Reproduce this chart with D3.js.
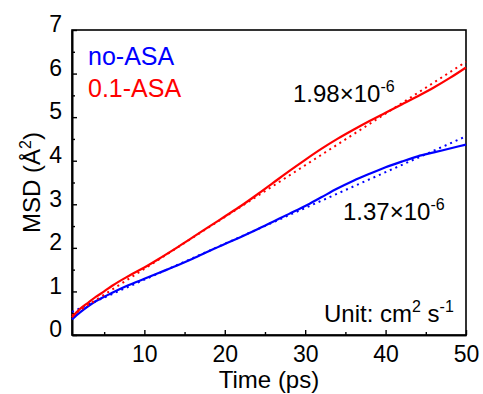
<!DOCTYPE html>
<html>
<head>
<meta charset="utf-8">
<script src="https://d3js.org/d3.v7.min.js"></script>
<style>
  body { margin: 0; background: #fff; }
  text { font-family: "Liberation Sans", Arial, sans-serif; }
</style>
</head>
<body>
<div id="chart"></div>
<script>
// Time axis (ps)
var timeVals = [1, 2, 3, 4, 5, 6, 8, 10, 12, 14, 16, 18, 20, 22, 24, 26, 28, 30, 32, 34, 36, 38, 40, 42, 44, 46, 48, 50];

// MSD values
var msdNoASA = [0.36, 0.52, 0.66, 0.78, 0.88, 0.97, 1.14, 1.29, 1.44, 1.59, 1.75, 1.92, 2.09, 2.25, 2.42, 2.60, 2.78, 2.96, 3.16, 3.36, 3.54, 3.70, 3.85, 3.98, 4.10, 4.19, 4.28, 4.37];
var msdASA = [0.41, 0.60, 0.74, 0.88, 1.00, 1.13, 1.35, 1.55, 1.77, 2.00, 2.24, 2.48, 2.72, 2.96, 3.22, 3.49, 3.76, 4.02, 4.27, 4.50, 4.71, 4.91, 5.10, 5.29, 5.48, 5.68, 5.90, 6.14];

// linear fits, end points only
var fitTime = [1, 50];
var fitNoASA = [0.53, 4.56];
var fitASA = [0.45, 6.27];

var xMajor = [10, 20, 30, 40, 50];
var xMinor = [5, 15, 25, 35, 45];
var yMajor = [0, 1, 2, 3, 4, 5, 6, 7];
var yMinor = [0.5, 1.5, 2.5, 3.5, 4.5, 5.5, 6.5];

var svgWidth = 483;
var svgHeight = 394;
var cM = { top: 30, right: 17, bottom: 59, left: 72 };
var cW = svgWidth - cM.left - cM.right;
var cH = svgHeight - cM.top - cM.bottom;

var svg = d3.select("#chart")
  .append("svg")
  .attr("width", svgWidth)
  .attr("height", svgHeight);

var chartGroup = svg.append("g")
  .attr("transform", `translate(${cM.left}, ${cM.top})`);

var xScale = d3.scaleLinear().domain([1, 50]).range([0, cW]);
var yScale = d3.scaleLinear().domain([0, 7]).range([cH, 0]);

// frame
chartGroup.append("rect")
  .attr("x", 0).attr("y", 0)
  .attr("width", cW).attr("height", cH)
  .attr("fill", "none")
  .attr("stroke", "#000")
  .attr("stroke-width", 1.6);

// axes, ticks pointing inward
var bottomAxis = d3.axisBottom(xScale).tickValues(xMajor).tickSizeInner(-5).tickSizeOuter(0).tickPadding(11).tickFormat(d3.format("d"));
var bottomMinor = d3.axisBottom(xScale).tickValues(xMinor).tickSizeInner(-3).tickSizeOuter(0).tickFormat("");
var leftAxis = d3.axisLeft(yScale).tickValues(yMajor).tickSizeInner(-5).tickSizeOuter(0).tickPadding(10).tickFormat(d3.format("d"));
var leftMinor = d3.axisLeft(yScale).tickValues(yMinor).tickSizeInner(-3).tickSizeOuter(0).tickFormat("");

var xg = chartGroup.append("g").attr("transform", `translate(0, ${cH})`).call(bottomAxis);
chartGroup.append("g").attr("transform", `translate(0, ${cH})`).call(bottomMinor);
var yg = chartGroup.append("g").call(leftAxis);
chartGroup.append("g").call(leftMinor);

chartGroup.selectAll(".domain").attr("stroke-width", 1.6);
chartGroup.selectAll(".tick line").attr("stroke-width", 1.4);
xg.selectAll("text").attr("font-size", 23).attr("fill", "#000");
yg.selectAll("text").attr("font-size", 23).attr("fill", "#000").attr("dy", "0.08em");

// lines
var line = d3.line()
  .x(d => xScale(d[0]))
  .y(d => yScale(d[1]));

var smooth = d3.line()
  .curve(d3.curveMonotoneX)
  .x(d => xScale(d[0]))
  .y(d => yScale(d[1]));

var series = [
  { vals: msdNoASA, fit: fitNoASA, color: "#0000ff" },
  { vals: msdASA, fit: fitASA, color: "#ff0000" }
];

series.forEach(function(s) {
  chartGroup.append("path")
    .datum(fitTime.map((t, i) => [t, s.fit[i]]))
    .attr("d", line)
    .attr("fill", "none")
    .attr("stroke", s.color)
    .attr("stroke-width", 2)
    .attr("stroke-dasharray", "2,4");

  chartGroup.append("path")
    .datum(timeVals.map((t, i) => [t, s.vals[i]]))
    .attr("d", smooth)
    .attr("fill", "none")
    .attr("stroke", s.color)
    .attr("stroke-width", 2.2);
});

// legend
svg.append("text").attr("x", 88).attr("y", 65).attr("font-size", 25).attr("fill", "#0000ff").text("no-ASA");
svg.append("text").attr("x", 88).attr("y", 97).attr("font-size", 25).attr("fill", "#ff0000").text("0.1-ASA");

// slope annotations
function sciLabel(x, y, main, sup) {
  var t = svg.append("text").attr("x", x).attr("y", y).attr("font-size", 24).attr("fill", "#000");
  t.append("tspan").text(main);
  t.append("tspan").attr("dy", -10).attr("font-size", 16).text(sup);
}
sciLabel(293, 102, "1.98\u00d710", "-6");
sciLabel(343, 220, "1.37\u00d710", "-6");

var unit = svg.append("text").attr("x", 324).attr("y", 322).attr("font-size", 24).attr("fill", "#000");
unit.append("tspan").text("Unit: cm");
unit.append("tspan").attr("dy", -10).attr("font-size", 16).text("2");
unit.append("tspan").attr("dy", 10).text(" s");
unit.append("tspan").attr("dy", -10).attr("font-size", 16).text("-1");

// axis titles
svg.append("text")
  .attr("x", cM.left + cW / 2)
  .attr("y", 388)
  .attr("text-anchor", "middle")
  .attr("font-size", 24)
  .text("Time (ps)");

var yt = svg.append("text")
  .attr("transform", `translate(40, ${cM.top + cH / 2}) rotate(-90)`)
  .attr("text-anchor", "middle")
  .attr("font-size", 24);
yt.append("tspan").text("MSD (\u00c5");
yt.append("tspan").attr("dy", -9).attr("font-size", 16).text("2");
yt.append("tspan").attr("dy", 9).text(")");
</script>
</body>
</html>
